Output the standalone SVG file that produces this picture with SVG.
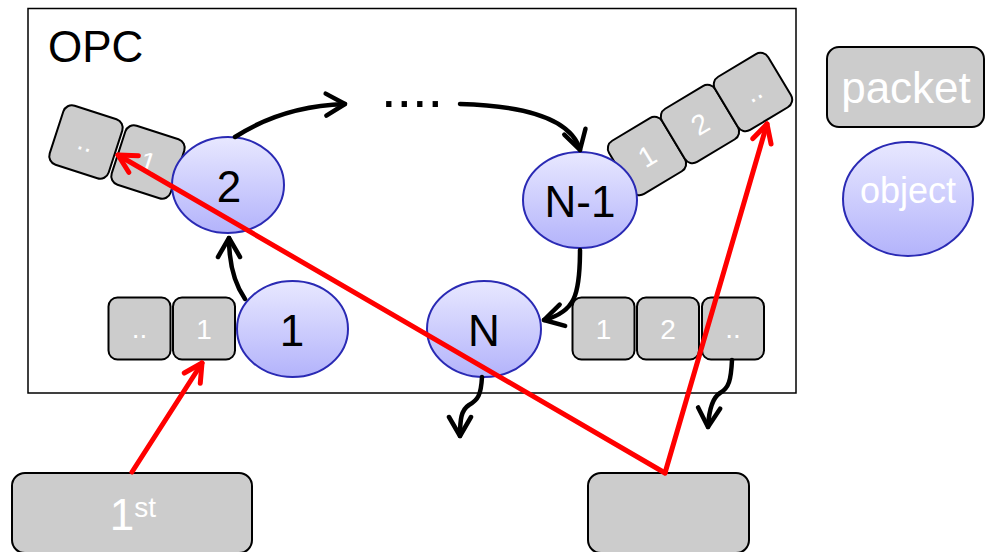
<svg xmlns="http://www.w3.org/2000/svg" width="985" height="552" viewBox="0 0 985 552">
<style>
text{font-family:"Liberation Sans",Arial,sans-serif}
.pk{fill:#cccccc;stroke:#000;stroke-width:2}
.pt{fill:#fff;font-size:28px;text-anchor:middle}
.ob{fill:url(#og);stroke:#2a2ab4;stroke-width:2}
.ot{fill:#000;font-size:44px;text-anchor:middle}
.blk{fill:none;stroke:#000;stroke-width:4.5;stroke-linecap:round;marker-end:url(#ah)}
.red{fill:none;stroke:#ff0000;stroke-width:5;stroke-linecap:round;marker-end:url(#rh)}
</style>
<defs>
<linearGradient id="og" x1="0" y1="0" x2="0" y2="1">
<stop offset="0" stop-color="#e8e8ff"/>
<stop offset="1" stop-color="#b3b3fb"/>
</linearGradient>
<marker id="ah" viewBox="-24 -14 28 28" refX="0" refY="0" markerWidth="28" markerHeight="28" markerUnits="userSpaceOnUse" orient="auto">
<path d="M-19,-11 L0,0 L-19,11" fill="none" stroke="#000" stroke-width="4.5" stroke-linecap="round" stroke-linejoin="round"/>
</marker>
<marker id="rh" viewBox="-24 -14 28 28" refX="0" refY="0" markerWidth="28" markerHeight="28" markerUnits="userSpaceOnUse" orient="auto">
<path d="M-18,-9.5 L0,0 L-18,9.5" fill="none" stroke="#ff0000" stroke-width="5" stroke-linecap="round" stroke-linejoin="round"/>
</marker>
</defs>
<rect width="985" height="552" fill="#fff"/>
<g id="opc">
<rect x="28" y="8.5" width="768" height="384.5" fill="none" stroke="#000" stroke-width="1.5"/>
<text x="48" y="62" font-size="44px" fill="#000">OPC</text>
</g>
<g id="packets-in-1">
<g transform="translate(139.5,328.5)"><rect class="pk" x="-31" y="-31" width="62" height="62" rx="9"/><text class="pt" y="9">..</text></g>
<g transform="translate(204,328.5)"><rect class="pk" x="-31" y="-31" width="62" height="62" rx="9"/><text class="pt" y="10">1</text></g>
</g>
<g id="packets-in-2">
<g transform="translate(86,142) rotate(18)"><rect class="pk" x="-31" y="-31" width="62" height="62" rx="9"/><text class="pt" y="9">..</text></g>
<g transform="translate(148,162) rotate(18)"><rect class="pk" x="-31" y="-31" width="62" height="62" rx="9"/><text class="pt" y="10">1</text></g>
</g>
<g id="packets-in-n1">
<g transform="translate(647,156) rotate(-31)"><rect class="pk" x="-31" y="-31" width="62" height="62" rx="9"/><text class="pt" y="10">1</text></g>
<g transform="translate(700,124) rotate(-31)"><rect class="pk" x="-31" y="-31" width="62" height="62" rx="9"/><text class="pt" y="10">2</text></g>
<g transform="translate(753,92) rotate(-31)"><rect class="pk" x="-31" y="-31" width="62" height="62" rx="9"/><text class="pt" y="9">..</text></g>
</g>
<g id="packets-queue">
<g transform="translate(603.5,328.5)"><rect class="pk" x="-31" y="-31" width="62" height="62" rx="9"/><text class="pt" y="10">1</text></g>
<g transform="translate(668,328.5)"><rect class="pk" x="-31" y="-31" width="62" height="62" rx="9"/><text class="pt" y="10">2</text></g>
<g transform="translate(733,328.5)"><rect class="pk" x="-31" y="-31" width="62" height="62" rx="9"/><text class="pt" y="9">..</text></g>
</g>
<g id="obj1"><ellipse class="ob" cx="292.5" cy="329" rx="55.5" ry="48"/><text class="ot" x="292" y="346">1</text></g>
<g id="obj2"><ellipse class="ob" cx="228" cy="185" rx="56" ry="48"/><text class="ot" x="229" y="202">2</text></g>
<g id="objN1"><ellipse class="ob" cx="580" cy="200" rx="57" ry="48"/><text class="ot" x="580" y="217" font-size="43px">N-1</text></g>
<g id="objN"><ellipse class="ob" cx="484" cy="329" rx="57" ry="48"/><text class="ot" x="484" y="346">N</text></g>
<g id="dots"><text x="412" y="107" font-size="56px" text-anchor="middle" fill="#000">....</text></g>
<g id="legend-packet"><rect class="pk" x="827" y="47" width="157" height="80" rx="12"/><text x="906" y="103" font-size="44px" fill="#fff" text-anchor="middle">packet</text></g>
<g id="legend-object"><ellipse class="ob" cx="908" cy="199" rx="65" ry="57"/><text x="908" y="203" font-size="36px" fill="#fff" text-anchor="middle">object</text></g>
<g id="src-first"><rect class="pk" x="12" y="473" width="240" height="80" rx="13"/><text x="133" y="530" font-size="44px" fill="#fff" text-anchor="middle">1<tspan font-size="28px" dy="-13">st</tspan></text></g>
<g id="src-last"><rect class="pk" x="588" y="473" width="161" height="80" rx="13"/></g>
<g id="connectors">
<path class="blk" d="M245,299 Q229,276 229,238"/>
<path class="blk" d="M235,137 Q283,106 345,104"/>
<path class="blk" d="M460,104 Q568,107 580,150"/>
<path class="blk" d="M580,250 C580,295 575,312 544,320"/>
<path class="blk" d="M482,377 C481,395 478,400 469,405 C461,410 460,420 460,436"/>
<path class="blk" d="M732,360 C731,380 729,388 720,393 C712,398 709,410 708,427"/>
<path class="red" d="M132,472 L202,363"/>
<path class="red" d="M665,473 L118,155"/>
<path class="red" d="M665,473 L767,124"/>
</g>
</svg>
